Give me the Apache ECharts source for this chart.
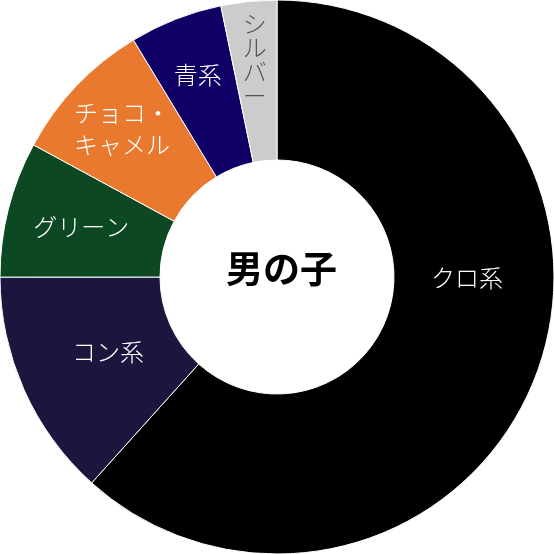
<!DOCTYPE html>
<html><head><meta charset="utf-8">
<script src="https://cdn.jsdelivr.net/npm/echarts@6/dist/echarts.min.js"></script>
<style>html,body{margin:0;padding:0;background:#fff}#c{width:554px;height:554px}</style>
</head><body><div id="c"></div>
<script>
const categories = ['クロ系', 'コン系', 'グリーン', 'チョコ・\nキャメル', '青系', 'シルバー'];
const values = [61.67, 13.33, 7.92, 8.42, 5.42, 3.25];
const colors = ['#000000', '#1b163d', '#0c4923', '#e8792f', '#100066', '#cccccc'];
const centerTitle = '男の子';

const chart = echarts.init(document.getElementById('c'));
const W = 554, H = 554;
const cx = W / 2, cy = H / 2;
const rOuter = 277, rInner = 117;
// label distance from centre for each slice (layout only)
const labelRadius = [190, 185, 202, 214, 217, 218];

const data = categories.map((name, i) => {
  const item = { name, value: values[i], itemStyle: { color: colors[i] } };
  if (name === 'シルバー') {
    item.label = { formatter: name.split('').join('\n'), color: '#555555', lineHeight: 24 };
  }
  return item;
});

chart.setOption({
  animation: false,
  graphic: [{
    type: 'text', left: 226, top: 250, z: 10,
    style: {
      text: centerTitle, fill: '#000',
      font: 'bold 37px "Noto Sans CJK JP"'
    }
  }],
  series: [{
    type: 'pie',
    center: ['50%', '50%'],
    radius: [rInner, rOuter],
    startAngle: 90,
    clockwise: true,
    avoidLabelOverlap: false,
    itemStyle: { borderColor: '#ffffff', borderWidth: 1 },
    label: {
      show: true, position: 'inside', color: '#ffffff',
      fontFamily: 'Noto Sans CJK JP', fontWeight: 300, fontSize: 24, lineHeight: 32,
      formatter: '{b}'
    },
    labelLine: { show: false },
    labelLayout: function (p) {
      const r = labelRadius[p.dataIndex];
      if (p.dataIndex === 0) {
        return { x: cx + r, y: cy + 1, align: 'center', verticalAlign: 'middle' };
      }
      const lx = p.labelRect.x + p.labelRect.width / 2;
      const ly = p.labelRect.y + p.labelRect.height / 2;
      const dx = lx - cx, dy = ly - cy;
      const d = Math.sqrt(dx * dx + dy * dy) || 1;
      return { x: cx + dx / d * r, y: cy + dy / d * r, align: 'center', verticalAlign: 'middle' };
    },
    emphasis: { disabled: true },
    data: data
  }]
});
</script></body></html>
